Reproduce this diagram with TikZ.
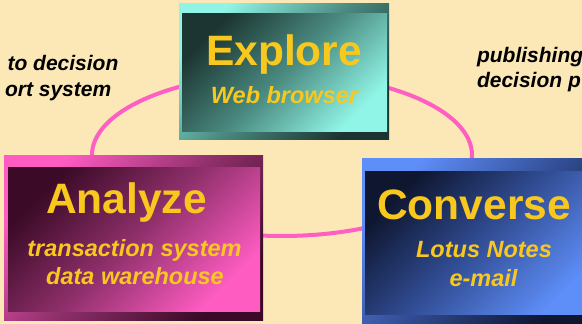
\documentclass[tikz,border=0pt]{standalone}
\usepackage{fontspec}
\setmainfont{Liberation Sans}
\usetikzlibrary{shapes.geometric}

\definecolor{paper}{HTML}{FBE8B6}
\definecolor{ring}{HTML}{FF5EC2}
\definecolor{gold}{HTML}{F9C81E}
\definecolor{explLight}{HTML}{90F5E6}
\definecolor{explMid}{HTML}{4A8A80}
\definecolor{explDark}{HTML}{1C3532}
\definecolor{anLight}{HTML}{FF5CC2}
\definecolor{anMid}{HTML}{90306C}
\definecolor{anDark}{HTML}{3A0A26}
\definecolor{conLight}{HTML}{5E8EF8}
\definecolor{conMid}{HTML}{324E96}
\definecolor{conDark}{HTML}{0E1630}

\begin{document}
\begin{tikzpicture}[x=1pt,y=-1pt,
  panel/.style={inner sep=0pt, outer sep=0pt, draw=none},
  frame/.style n args={3}{panel, top color=#1, bottom color=#3, middle color=#2, shading angle=45},
  face/.style n args={3}{panel, top color=#3, bottom color=#1, middle color=#2, shading angle=45},
  title/.style={anchor=base, text=gold, font=\bfseries\fontsize{42.5}{46}\selectfont},
  sub/.style={anchor=base, text=gold, font=\bfseries\itshape\fontsize{23.5}{26}\selectfont},
  side/.style={anchor=base west, text=black, font=\bfseries\itshape\fontsize{21}{24}\selectfont},
]
\useasboundingbox (0,0) rectangle (582,324);
\clip (0,0) rectangle (582,324);
\fill[paper] (0,0) rectangle (582,324);

% ring joining the three activities
\draw[ring, line width=4pt] (282,155) ellipse [x radius=190pt, y radius=81pt];

% Explore panel
\node[frame={explLight}{explMid}{explDark}, minimum width=210pt, minimum height=136pt] (exploreFrame) at (284,71) {};
\node[face={explLight}{explMid}{explDark}, minimum width=205pt, minimum height=118pt] (exploreFace) at (284.5,72) {};
\node[title] (exploreTitle) at (284,65) {Explore};
\node[sub] (exploreSub) at (284.5,103) {Web browser};

% Analyze panel
\node[frame={anLight}{anMid}{anDark}, minimum width=259pt, minimum height=165pt] (analyzeFrame) at (133.5,237.5) {};
\node[face={anLight}{anMid}{anDark}, minimum width=252pt, minimum height=144pt] (analyzeFace) at (134,239) {};
\node[title] (analyzeTitle) at (126.5,213) {Analyze};
\node[sub] (analyzeSubA) at (134.5,256) {transaction system};
\node[sub] (analyzeSubB) at (135,284) {data warehouse};

% Converse panel
\node[frame={conLight}{conMid}{conDark}, minimum width=238pt, minimum height=166pt] (converseFrame) at (481,241) {};
\node[face={conLight}{conMid}{conDark}, minimum width=232pt, minimum height=143pt] (converseFace) at (481,242.5) {};
\node[title] (converseTitle) at (474,219) {Converse};
\node[sub] (converseSubA) at (484,257) {Lotus Notes};
\node[sub] (converseSubB) at (483.5,286) {e-mail};

% side captions
\node[side] (leftA) at (4,70.5) {to decision};
\node[side] (leftB) at (1.5,96) {ort system};
\node[side] (rightA) at (473.5,63) {publishing};
\node[side] (rightB) at (473.5,87.5) {decision p};
\end{tikzpicture}
\end{document}
